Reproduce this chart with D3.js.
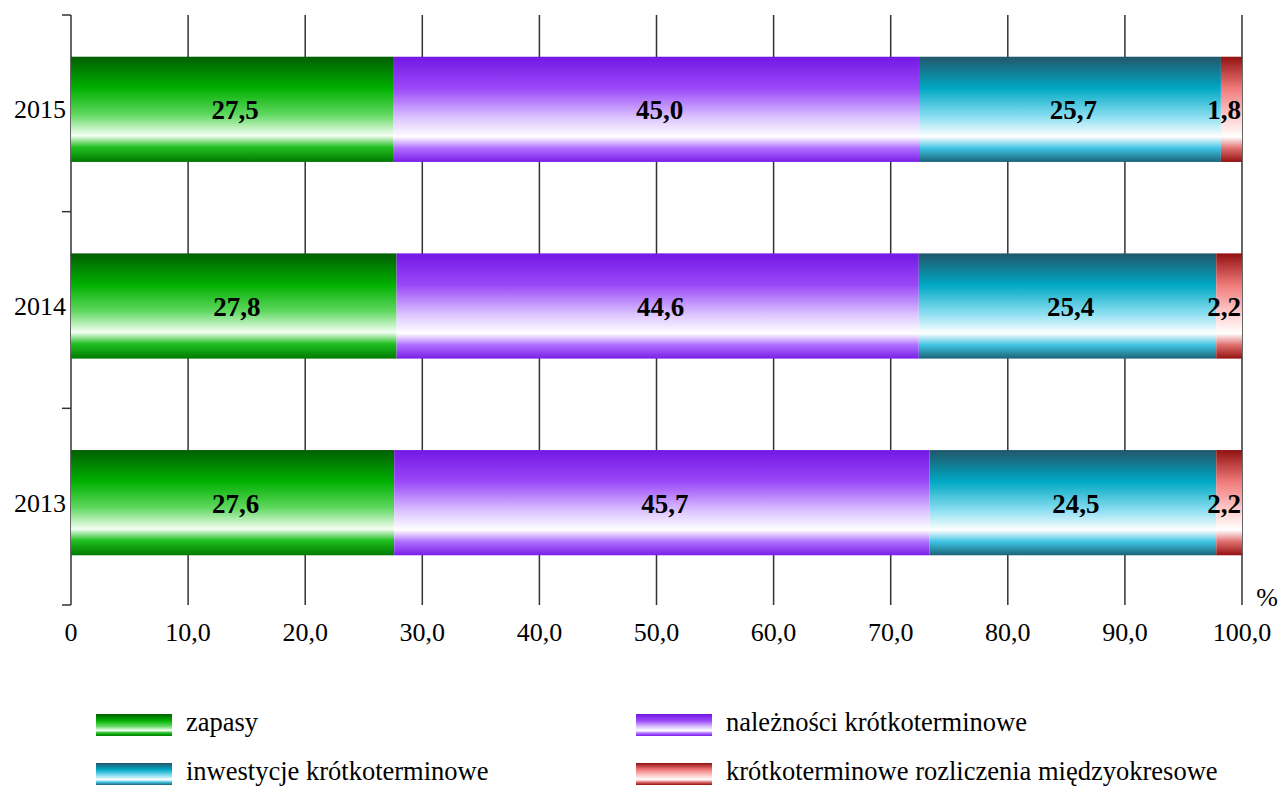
<!DOCTYPE html>
<html><head><meta charset="utf-8">
<script src="https://cdn.jsdelivr.net/npm/d3@7"></script>
<style>body{margin:0;background:#fff}svg{display:block}</style>
</head><body>
<svg id="c" width="1280" height="787"></svg>
<script>
const years = ["2015", "2014", "2013"];
const seriesNames = ["zapasy", "należności krótkoterminowe", "inwestycje krótkoterminowe", "krótkoterminowe rozliczenia międzyokresowe"];
const zapasy = [27.5, 27.8, 27.6];
const naleznosci = [45.0, 44.6, 45.7];
const inwestycje = [25.7, 25.4, 24.5];
const rozliczenia = [1.8, 2.2, 2.2];
const xTicks = [0, 10, 20, 30, 40, 50, 60, 70, 80, 90, 100];
const gradStops = [
  [["0%","#005f00"],["30%","#00b000"],["55%","#60d860"],["75%","#f4fff4"],["86%","#20c020"],["100%","#007a00"]],
  [["0%","#7418e4"],["30%","#9a48f8"],["58%","#dcc4ff"],["76%","#ffffff"],["87%","#b070ff"],["100%","#7a1ee8"]],
  [["0%","#22566a"],["30%","#00a8c4"],["58%","#90e0f2"],["76%","#ffffff"],["87%","#40c4e4"],["100%","#1a6478"]],
  [["0%","#921010"],["30%","#f07a7a"],["58%","#ffd0d0"],["76%","#ffffff"],["87%","#e07070"],["100%","#941010"]]
];

const svg = d3.select("#c");
const FONT = "Liberation Serif, Times New Roman, serif";
const L = 71, R = 1242, T = 15, B = 605;
const x = d3.scaleLinear().domain([0, 100]).range([L, R]);
const yAxis = d3.scaleBand().domain(years).range([T, B]);
const yBar = d3.scaleBand().domain(years).range([11, 601]).paddingInner(0.465).paddingOuter(0.2325);

const defs = svg.append("defs");
gradStops.forEach((st, i) => {
  const g = defs.append("linearGradient").attr("id", "g" + i).attr("x1", 0).attr("x2", 0).attr("y1", 0).attr("y2", 1);
  st.forEach(s => g.append("stop").attr("offset", s[0]).attr("stop-color", s[1]));
});

// gridlines
svg.append("g").selectAll("line").data(xTicks).join("line")
  .attr("x1", d => x(d)).attr("x2", d => x(d)).attr("y1", T).attr("y2", B)
  .attr("stroke", "#333").attr("stroke-width", 1.5);

// y axis ticks at band boundaries
const bounds = years.map(d => yAxis(d)).concat([B]);
svg.append("g").selectAll("line").data(bounds).join("line")
  .attr("x1", L - 9).attr("x2", L).attr("y1", d => d).attr("y2", d => d)
  .attr("stroke", "#333").attr("stroke-width", 1.5);

// stacked data
const rows = years.map((yr, i) => ({year: yr, vals: [zapasy[i], naleznosci[i], inwestycje[i], rozliczenia[i]]}));
const segs = [];
rows.forEach(r => {
  let acc = 0;
  r.vals.forEach((v, k) => { segs.push({year: r.year, k, v, x0: acc, x1: acc + v}); acc += v; });
});

svg.append("g").selectAll("rect").data(segs).join("rect")
  .attr("x", d => x(d.x0)).attr("width", d => Math.max(0, Math.min(x(d.x1), R) - x(d.x0)))
  .attr("y", d => yBar(d.year)).attr("height", yBar.bandwidth())
  .attr("fill", d => `url(#g${d.k})`);

svg.append("g").selectAll("text").data(segs).join("text")
  .attr("x", d => d.k === 3 ? R - 1 : x((d.x0 + d.x1) / 2) + 3)
  .attr("text-anchor", d => d.k === 3 ? "end" : "middle")
  .attr("y", d => yBar(d.year) + yBar.bandwidth() / 2 + 10)
  .attr("font-family", FONT)
  .attr("font-weight", "bold").attr("font-size", 27).attr("fill", "#000")
  .text(d => d3.format(".1f")(d.v).replace(".", ","));

// year labels
svg.append("g").selectAll("text").data(years).join("text")
  .attr("x", L - 5).attr("text-anchor", "end")
  .attr("y", d => yBar(d) + yBar.bandwidth() / 2 + 9)
  .attr("font-family", FONT).attr("font-size", 26)
  .text(d => d);

// x tick labels
svg.append("g").selectAll("text").data(xTicks).join("text")
  .attr("x", d => x(d)).attr("text-anchor", "middle").attr("y", 641)
  .attr("font-family", FONT).attr("font-size", 26)
  .text(d => d === 0 ? "0" : d3.format(".1f")(d).replace(".", ","));

svg.append("text").attr("x", 1267).attr("y", 606).attr("text-anchor", "middle")
  .attr("font-family", FONT).attr("font-size", 26).text("%");

// legend
const legPos = [[96, 714], [636, 714], [96, 763], [636, 763]];
const lg = svg.append("g").selectAll("g").data(seriesNames).join("g")
  .attr("transform", (d, i) => `translate(${legPos[i][0]},${legPos[i][1]})`);
lg.append("rect").attr("width", 76).attr("height", 22).attr("fill", (d, i) => `url(#g${i})`);
lg.append("text").attr("x", 90).attr("y", 17)
  .attr("font-family", FONT).attr("font-size", 26.5)
  .text(d => d);
</script>
</body></html>
